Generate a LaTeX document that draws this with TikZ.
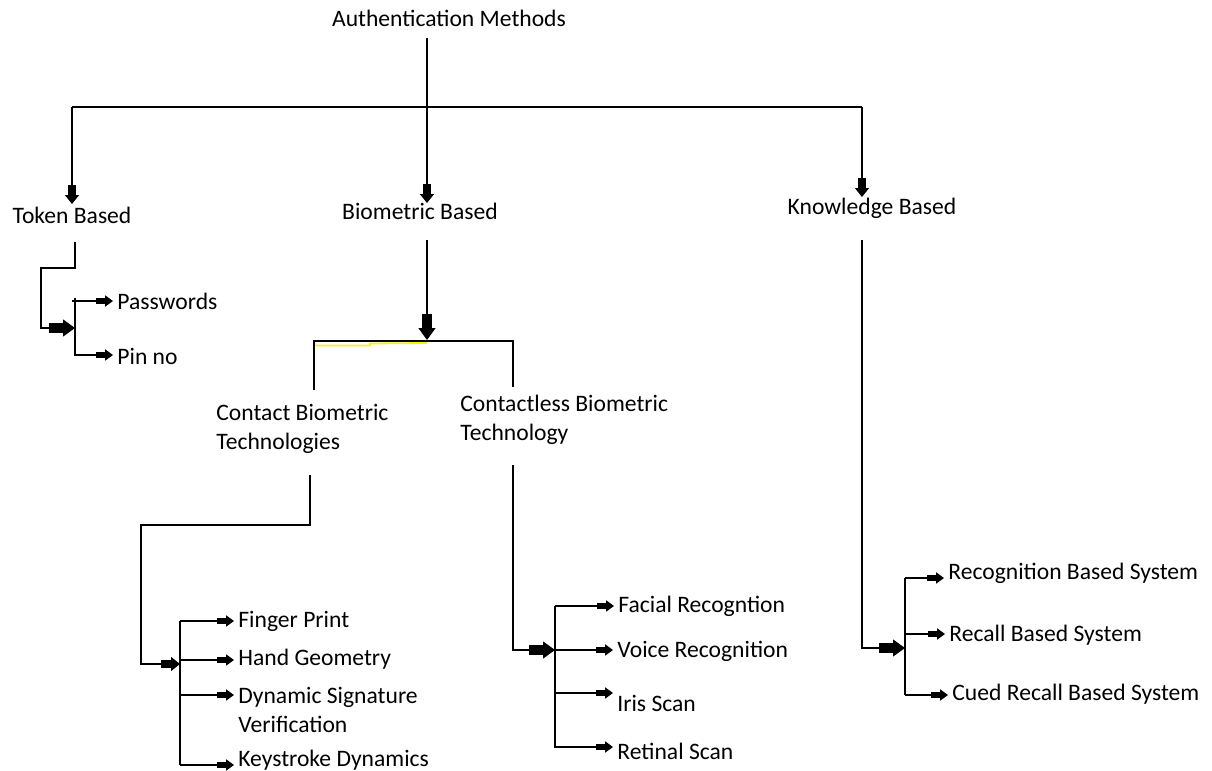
\documentclass[tikz,border=0pt]{standalone}
\usepackage{fontspec}
\setmainfont{Carlito}
\usepackage{tikz}
\usetikzlibrary{arrows.meta,calc}
\tikzstyle{tsText} = [ 
    text=black, 
    font=\fontsize{11.8}{14.5}\selectfont,
    inner sep=0pt
]
\tikzstyle{tsLeaf} = [ 
    tsText, 
    anchor=west,
    align=left,
    inner xsep=2pt
]
\tikzstyle{tsLine} = [ 
    draw=black,
    line width=0.7pt]
\tikzstyle{tsArrow} = [ 
    tsLine,
    -{Rectangle[length=4.5pt,width=3.2pt] Triangle[length=4pt,width=5.6pt]}]
\tikzstyle{tsMidArrow} = [ 
    tsLine,
    -{Rectangle[length=5pt,width=4pt] Triangle[length=4.5pt,width=7pt]}]
\tikzstyle{tsBigArrow} = [ 
    tsLine,
    -{Rectangle[length=7pt,width=5pt] Triangle[length=6pt,width=8.5pt]}]

\begin{document}
\begin{tikzpicture}[x=0.5pt, y=-0.5pt]

    \useasboundingbox (0,0) rectangle (1212,771);

    % headings
    \node[tsText] (auth) at (449,18) {Authentication Methods};
    \node[tsText] (tok) at (72,215) {Token Based};
    \node[tsText] (bio) at (420,211) {Biometric Based};
    \node[tsText] (know) at (872,208) {Knowledge Based};

    \node[tsLeaf, inner xsep=0pt] (ctc) at (216,428.5) {Contact Biometric\\Technologies};
    \node[tsLeaf, inner xsep=0pt] (ctl) at (460,419.5) {Contactless Biometric\\Technology};

    % leaves
    \node[tsLeaf] (pw) at (113,301) {Passwords};
    \node[tsLeaf] (pin) at (113,356) {Pin no};

    \node[tsLeaf] (fp) at (234,621) {Finger Print};
    \node[tsLeaf] (hg) at (234,659) {Hand Geometry};
    \node[tsLeaf] (dsv) at (234,709.5) {Dynamic Signature\\Verification};
    \node[tsLeaf] (ksd) at (234,760) {Keystroke Dynamics};

    \node[tsLeaf] (fr) at (614,606) {Facial Recogntion};
    \node[tsLeaf] (vr) at (613,651) {Voice Recognition};
    \node[tsLeaf] (iris) at (613,703) {Iris Scan};
    \node[tsLeaf] (ret) at (613,751) {Retinal Scan};

    \node[tsLeaf] (rbs) at (944,573) {Recognition Based System};
    \node[tsLeaf] (rcs) at (945,635) {Recall Based System};
    \node[tsLeaf] (crs) at (948,694) {Cued Recall Based System};

    % top split
    \coordinate (authOut) at (427,38);
    \coordinate (split) at (427,107);
    \draw[tsLine] (split -| tok) -- (split -| 862,0);
    \draw[tsMidArrow] (authOut) -- (authOut |- 0,203);
    \draw[tsMidArrow] (split -| tok) -- (72,204);
    \draw[tsMidArrow] (split -| 862,0) -- (862,197);

    % token based
    \coordinate (tokOut) at (75,242);
    \draw[tsBigArrow] (tokOut) -- (75,268) -- (41,268) -- (41,328) -- (75,328);
    \draw[tsLine] (75,298) -- (75,356);
    \draw[tsLine] (72,301) -- (75,301);
    \draw[tsArrow] (75,301) -- (pw.west |- 0,301);
    \draw[tsArrow] (75,355) -- (pin.west |- 0,355);

    % biometric based
    \coordinate (bioOut) at (427,240);
    \coordinate (bioSplit) at (427,341);
    \draw[tsBigArrow] (bioOut) -- (427,340);
    \draw[yellow, line width=0.9pt] (315,345.5) -- (370,345.5) -- (370,343.5) -- (427,343);
    \draw[tsLine] (314,390) -- (314,341) -- (513,341) -- (513,387);

    % contact
    \coordinate (ctcOut) at (310,475);
    \draw[tsMidArrow] (ctcOut) -- (310,525) -- (141,525) -- (141,664) -- (180,664);
    \draw[tsLine] (180,621) -- (180,765);
    \foreach \n/\y in {fp/621, hg/660, dsv/695, ksd/765}
        \draw[tsArrow] (180,\y) -- (\n.west |- 0,\y);

    % contactless
    \coordinate (ctlOut) at (513,465);
    \draw[tsBigArrow] (ctlOut) -- (513,650) -- (555,650);
    \draw[tsLine] (555,606) -- (555,748);
    \foreach \n/\y in {fr/606, vr/650, iris/693, ret/747}
        \draw[tsArrow] (555,\y) -- (\n.west |- 0,\y);

    % knowledge based
    \coordinate (knowOut) at (862,240);
    \draw[tsBigArrow] (knowOut) -- (862,643) -- (862,648) -- (905,648);
    \draw[tsLine] (905,578) -- (905,695);
    \foreach \n/\y in {rbs/578, rcs/634, crs/695}
        \draw[tsArrow] (905,\y) -- (\n.west |- 0,\y);

\end{tikzpicture}
\end{document}
